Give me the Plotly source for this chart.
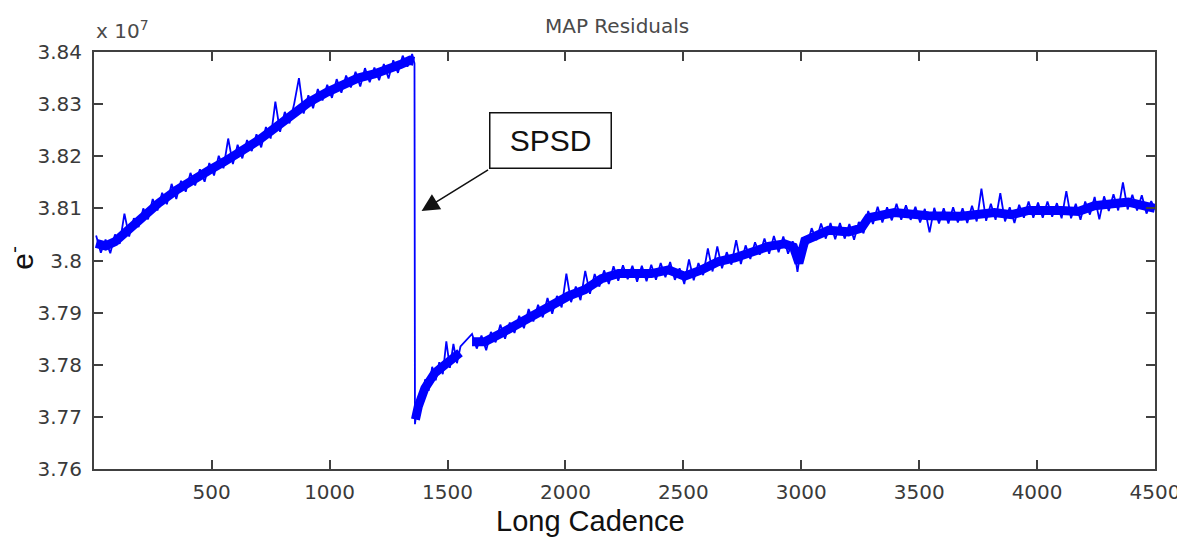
import plotly.graph_objects as go

# ---------------- data (flux in units of 1e7 e-) ----------------
cadence_a = list(range(10, 1351, 20)) + [1360]
flux_a = [
    3.8048, 3.8015, 3.8040, 3.8014, 3.8050, 3.8032, 3.8090, 3.8046, 3.8081, 3.8064,
    3.8100, 3.8079, 3.8118, 3.8096, 3.8130, 3.8108, 3.8147, 3.8118, 3.8153, 3.8132,
    3.8168, 3.8144, 3.8175, 3.8151, 3.8187, 3.8163, 3.8201, 3.8177, 3.8234, 3.8185,
    3.8222, 3.8196, 3.8231, 3.8210, 3.8242, 3.8217, 3.8256, 3.8234, 3.8305, 3.8247,
    3.8285, 3.8263, 3.8301, 3.8350, 3.8282, 3.8317, 3.8292, 3.8329, 3.8307, 3.8337,
    3.8312, 3.8348, 3.8322, 3.8355, 3.8332, 3.8362, 3.8334, 3.8369, 3.8342, 3.8370,
    3.8346, 3.8377, 3.8349, 3.8384, 3.8360, 3.8393, 3.8372, 3.8396,
    3.8378,
]

cadence_b = [1362] + list(range(1375, 1556, 15))
flux_b = [
    3.7686, 3.7735, 3.7724, 3.7772, 3.7750, 3.7796, 3.7770, 3.7805, 3.7782, 3.7845,
    3.7794, 3.7840, 3.7803, 3.7835,
]

cadence_c = list(range(1604, 4485, 20)) + [4500]
flux_c = [
    3.7859, 3.7831, 3.7856, 3.7828, 3.7863, 3.7843, 3.7877, 3.7850, 3.7881, 3.7861,
    3.7894, 3.7870, 3.7907, 3.7883, 3.7915, 3.7891, 3.7928, 3.7898, 3.7932, 3.7910,
    3.7975, 3.7920, 3.7950, 3.7924, 3.7980, 3.7936, 3.7974, 3.7950, 3.7981, 3.7955,
    3.7989, 3.7961, 3.7991, 3.7964, 3.7990, 3.7959, 3.7990, 3.7960, 3.7992, 3.7963,
    3.7995, 3.7968, 3.7997, 3.7963, 3.7985, 3.7955, 3.8002, 3.7962, 3.7995, 3.7972,
    3.8023, 3.7979, 3.8027, 3.7985, 3.8016, 3.7992, 3.8039, 3.7993, 3.8029, 3.8003,
    3.8035, 3.8011, 3.8042, 3.8013, 3.8047, 3.8016, 3.8046, 3.8013, 3.8037, 3.7978,
    3.8040, 3.8028, 3.8062, 3.8039, 3.8071, 3.8042, 3.8072, 3.8041, 3.8072, 3.8042,
    3.8070, 3.8040, 3.8074, 3.8052, 3.8095, 3.8070, 3.8103, 3.8073, 3.8102, 3.8077,
    3.8109, 3.8078, 3.8106, 3.8078, 3.8103, 3.8073, 3.8099, 3.8054, 3.8101, 3.8071,
    3.8100, 3.8071, 3.8102, 3.8073, 3.8100, 3.8072, 3.8105, 3.8075, 3.8138, 3.8076,
    3.8109, 3.8078, 3.8129, 3.8075, 3.8102, 3.8072, 3.8107, 3.8082, 3.8113, 3.8082,
    3.8111, 3.8082, 3.8113, 3.8084, 3.8110, 3.8081, 3.8133, 3.8081, 3.8109, 3.8078,
    3.8113, 3.8088, 3.8122, 3.8079, 3.8123, 3.8095, 3.8127, 3.8096, 3.8150, 3.8098,
    3.8126, 3.8096, 3.8125, 3.8090, 3.8114,
    3.8098,
]

# band centre line (read along the middle of the noisy band)
core_cad_a = [10, 50, 90, 130, 200, 275, 350, 415, 485, 555, 630, 700, 770, 840, 910,
              990, 1060, 1120, 1190, 1260, 1300, 1340, 1358]
core_flux_a = [3.8033, 3.8028, 3.8036, 3.8052, 3.8082, 3.8110, 3.8135, 3.8155, 3.8172,
               3.8190, 3.8210, 3.8231, 3.8255, 3.8280, 3.8303, 3.8323, 3.8338, 3.8350,
               3.8358, 3.8367, 3.8376, 3.8384, 3.8382]
core_cad_b = [1364, 1376, 1404, 1446, 1489, 1531, 1553]
core_flux_b = [3.7695, 3.7720, 3.7755, 3.7784, 3.7800, 3.7816, 3.7823]
core_cad_c = [1604, 1658, 1730, 1801, 1870, 1942, 2013, 2082, 2153, 2225, 2293, 2365,
              2437, 2505, 2577, 2649, 2717, 2789, 2861, 2929, 2967, 2990, 3015, 3115,
              3200, 3255, 3285, 3395, 3539, 3679, 3819, 3891, 3964, 4103, 4175, 4243,
              4387, 4500]
core_flux_c = [3.7844, 3.7844, 3.7861, 3.7880, 3.7896, 3.7915, 3.7932, 3.7944, 3.7965,
               3.7975, 3.7976, 3.7975, 3.7982, 3.7970, 3.7982, 3.7998, 3.8005, 3.8018,
               3.8027, 3.8032, 3.8026, 3.7995, 3.8038, 3.8058, 3.8055, 3.8062, 3.8082,
               3.8092, 3.8086, 3.8085, 3.8092, 3.8088, 3.8096, 3.8096, 3.8094, 3.8105,
               3.8112, 3.8100]

x_ticks = [500, 1000, 1500, 2000, 2500, 3000, 3500, 4000, 4500]
y_ticks = [3.76, 3.77, 3.78, 3.79, 3.80, 3.81, 3.82, 3.83, 3.84]
y_tick_text = ["3.76", "3.77", "3.78", "3.79", "3.8", "3.81", "3.82", "3.83", "3.84"]

assert len(cadence_a) == len(flux_a)
assert len(cadence_b) == len(flux_b)
assert len(cadence_c) == len(flux_c)

# ---------------- figure ----------------
BLUE = "#0000FF"
AX = "#404040"

fig = go.Figure()

core_x = core_cad_a + [None] + core_cad_b + [None] + core_cad_c
core_y = core_flux_a + [None] + core_flux_b + [None] + core_flux_c
fig.add_trace(go.Scatter(x=core_x, y=core_y, mode="lines",
                         line=dict(color=BLUE, width=9), connectgaps=False,
                         hoverinfo="skip", showlegend=False))

fig.add_trace(go.Scatter(x=cadence_a + cadence_b + cadence_c,
                         y=flux_a + flux_b + flux_c, mode="lines",
                         line=dict(color=BLUE, width=1.8), showlegend=False))

tick_font = dict(family="DejaVu Sans", size=20, color="#3a3a3a")

fig.update_xaxes(range=[1, 4500], tickvals=x_ticks, ticks="inside", ticklen=9,
                 tickwidth=1.5, tickcolor=AX, showline=True, linecolor=AX,
                 linewidth=2, mirror="ticks", showgrid=False, zeroline=False,
                 tickfont=tick_font, ticklabelstandoff=4, automargin=False)
fig.update_yaxes(range=[3.76, 3.84], tickvals=y_ticks, ticktext=y_tick_text,
                 ticks="inside", ticklen=9, tickwidth=1.5, tickcolor=AX,
                 showline=True, linecolor=AX, linewidth=2, mirror="ticks",
                 showgrid=False, zeroline=False, tickfont=tick_font,
                 ticklabelstandoff=6, automargin=False)

# the page adds an 8px body margin, so the figure is 8px smaller on each side
fig.update_layout(
    width=1177, height=529,
    margin=dict(l=86, r=30, t=44, b=68, autoexpand=False),
    plot_bgcolor="white", paper_bgcolor="white",
    showlegend=False,
)

annotations = [
    dict(text="MAP Residuals", xref="paper", yref="paper", x=0.493, y=1.0,
         yshift=12, xanchor="center", yanchor="bottom", showarrow=False,
         font=dict(family="DejaVu Sans", size=20, color="#4a4a4a")),
    dict(text="x 10<sup>7</sup>", xref="paper", yref="paper", x=0.0, y=1.0,
         yshift=7, xanchor="left", yanchor="bottom", showarrow=False,
         font=dict(family="DejaVu Sans", size=20, color="#4a4a4a")),
    dict(text="Long Cadence", xref="paper", yref="paper", x=0.468, y=0.0,
         yshift=-34, xanchor="center", yanchor="top", showarrow=False,
         font=dict(family="Liberation Sans", size=29, color="#111111")),
    dict(text="e<sup>-</sup>", xref="paper", yref="paper", x=-0.069, y=0.506,
         xanchor="center", yanchor="middle", textangle=-90, showarrow=False,
         font=dict(family="Liberation Sans", size=30, color="#111111")),
    dict(text="SPSD", xref="x", yref="y", x=1937, y=3.8231,
         xanchor="center", yanchor="middle", showarrow=False,
         width=120, height=54, bordercolor="#111111", borderwidth=1.5,
         borderpad=0, bgcolor="white",
         font=dict(family="Liberation Sans", size=30, color="#111111")),
    dict(text="", xref="x", yref="y", x=1390, y=3.8095, ax=68, ay=-42,
         showarrow=True, arrowhead=2, arrowsize=2.2, arrowwidth=1.6,
         arrowcolor="#111111"),
]
fig.update_layout(annotations=annotations)

fig.write_html("out.html")
